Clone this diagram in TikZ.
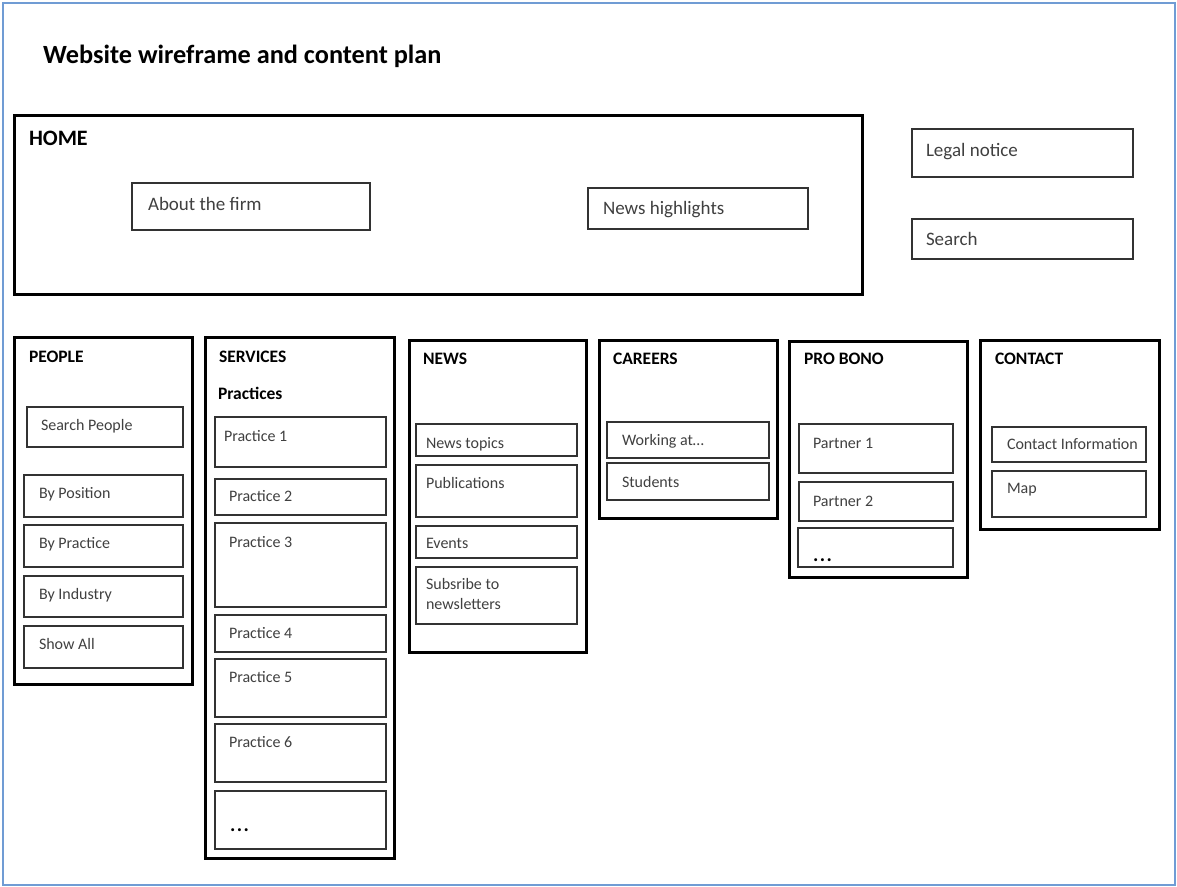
\documentclass[tikz,border=0pt]{standalone}
\usepackage{fontspec}
\setmainfont{Carlito}
\usetikzlibrary{fit}

\definecolor{framecol}{RGB}{112,156,212}
\definecolor{itemline}{RGB}{50,50,50}
\definecolor{itemtext}{RGB}{64,64,64}

\tikzset{
  page/.style={draw=framecol, line width=2pt},
  section/.style={draw=black, line width=3pt, inner sep=0pt, outer sep=0pt},
  item/.style={draw=itemline, line width=1.4pt, inner sep=0pt, outer sep=0pt},
  txt/.style={anchor=base west, inner sep=0pt, outer sep=0pt},
  title/.style={txt, font=\fontsize{26.3}{31}\selectfont\bfseries},
  bighead/.style={txt, font=\fontsize{22}{26}\selectfont\bfseries},
  head/.style={txt, font=\fontsize{17.5}{21}\selectfont\bfseries},
  toplabel/.style={txt, text=itemtext, font=\fontsize{19}{23}\selectfont},
  label/.style={txt, text=itemtext, font=\fontsize{16}{20}\selectfont},
  dots/.style={txt, font=\fontsize{20}{24}\selectfont\bfseries},
}
\newcommand\moredots{.\kern1.5pt.\kern1.5pt.}

\begin{document}
\begin{tikzpicture}[x=1pt, y=-1pt]
\useasboundingbox (0,0) rectangle (1177,886);
\fill[white] (0,0) rectangle (1177,886);

% page frame and heading
\draw[page] (2.5,2.5) rectangle (1175,885);
\node[title] (heading) at (43,63) {Website wireframe and content plan};

% home page block
\node[section, fit={(14,115)(862,294)}] (home) {};
\node[bighead] (homeT) at ([shift={(15,30)}]home.north west) {HOME};
\node[item, fit={(132,183)(370,230)}] (about) {};
\node[toplabel] (aboutT) at ([shift={(16,27)}]about.north west) {About the firm};
\node[item, fit={(588,188)(808,229)}] (highlights) {};
\node[toplabel] (highlightsT) at ([shift={(15,26)}]highlights.north west) {News highlights};

% utility pages
\node[item, fit={(912,129)(1133,177)}] (legal) {};
\node[toplabel] (legalT) at ([shift={(14,27)}]legal.north west) {Legal notice};
\node[item, fit={(912,219)(1133,259)}] (search) {};
\node[toplabel] (searchT) at ([shift={(14,26)}]search.north west) {Search};

% PEOPLE
\node[section, fit={(14,337)(192,684)}] (people) {};
\node[head] (peopleT) at ([shift={(15,25)}]people.north west) {PEOPLE};
\node[item, fit={(27,407)(183,447)}] (searchpeople) {};
\node[label] (searchpeopleT) at ([shift={(14,23)}]searchpeople.north west) {Search People};
\node[item, fit={(24,475)(183,517)}] (byposition) {};
\node[label] (bypositionT) at ([shift={(15,23)}]byposition.north west) {By Position};
\node[item, fit={(24,525)(183,567)}] (bypractice) {};
\node[label] (bypracticeT) at ([shift={(15,23)}]bypractice.north west) {By Practice};
\node[item, fit={(24,576)(183,617)}] (byindustry) {};
\node[label] (byindustryT) at ([shift={(15,23)}]byindustry.north west) {By Industry};
\node[item, fit={(24,626)(183,668)}] (showall) {};
\node[label] (showallT) at ([shift={(15,23)}]showall.north west) {Show All};

% SERVICES
\node[section, fit={(205,337)(394,858)}] (services) {};
\node[head] (servicesT) at ([shift={(14,25)}]services.north west) {SERVICES};
\node[head] (practicesT) at ([shift={(13,62)}]services.north west) {Practices};
\node[item, fit={(215,417)(386,467)}] (p1) {};
\node[label] (p1T) at ([shift={(9,24)}]p1.north west) {Practice 1};
\node[item, fit={(215,479)(386,515)}] (p2) {};
\node[label] (p2T) at ([shift={(14,22)}]p2.north west) {Practice 2};
\node[item, fit={(215,523)(386,607)}] (p3) {};
\node[label] (p3T) at ([shift={(14,24)}]p3.north west) {Practice 3};
\node[item, fit={(215,615)(386,652)}] (p4) {};
\node[label] (p4T) at ([shift={(14,23)}]p4.north west) {Practice 4};
\node[item, fit={(215,659)(386,717)}] (p5) {};
\node[label] (p5T) at ([shift={(14,23)}]p5.north west) {Practice 5};
\node[item, fit={(215,724)(386,782)}] (p6) {};
\node[label] (p6T) at ([shift={(14,23)}]p6.north west) {Practice 6};
\node[item, fit={(215,791)(386,849)}] (pmore) {};
\node[dots] (pmoreT) at ([shift={(15,40)}]pmore.north west) {\moredots};

% NEWS
\node[section, fit={(409,340)(586,652)}] (news) {};
\node[head] (newsT) at ([shift={(14,24)}]news.north west) {NEWS};
\node[item, fit={(416,424)(577,456)}] (topics) {};
\node[label] (topicsT) at ([shift={(10,24)}]topics.north west) {News topics};
\node[item, fit={(416,465)(577,517)}] (publications) {};
\node[label] (publicationsT) at ([shift={(10,23)}]publications.north west) {Publications};
\node[item, fit={(416,526)(577,558)}] (events) {};
\node[label] (eventsT) at ([shift={(10,22)}]events.north west) {Events};
\node[item, fit={(416,567)(577,624)}] (subscribe) {};
\node[label] (subscribeT) at ([shift={(10,22)}]subscribe.north west) {Subsribe to};
\node[label] (subscribeT2) at ([shift={(10,42)}]subscribe.north west) {newsletters};

% CAREERS
\node[section, fit={(599,340)(777,518)}] (careers) {};
\node[head] (careersT) at ([shift={(14,24)}]careers.north west) {CAREERS};
\node[item, fit={(607,422)(769,458)}] (working) {};
\node[label] (workingT) at ([shift={(15,23)}]working.north west) {Working at…};
\node[item, fit={(607,463)(769,500)}] (students) {};
\node[label] (studentsT) at ([shift={(15,24)}]students.north west) {Students};

% PRO BONO
\node[section, fit={(789,341)(967,577)}] (probono) {};
\node[head] (probonoT) at ([shift={(15,23)}]probono.north west) {PRO BONO};
\node[item, fit={(799,424)(953,473)}] (partner1) {};
\node[label] (partner1T) at ([shift={(14,24)}]partner1.north west) {Partner 1};
\node[item, fit={(799,482)(953,521)}] (partner2) {};
\node[label] (partner2T) at ([shift={(14,24)}]partner2.north west) {Partner 2};
\node[item, fit={(798,528)(953,567)}] (partnermore) {};
\node[dots] (partnermoreT) at ([shift={(15,33)}]partnermore.north west) {\moredots};

% CONTACT
\node[section, fit={(980,340)(1159,529)}] (contact) {};
\node[head] (contactT) at ([shift={(15,24)}]contact.north west) {CONTACT};
\node[item, fit={(992,427)(1146,462)}] (contactinfo) {};
\node[label] (contactinfoT) at ([shift={(15,22)}]contactinfo.north west) {Contact Information};
\node[item, fit={(992,471)(1146,517)}] (map) {};
\node[label] (mapT) at ([shift={(15,22)}]map.north west) {Map};
\end{tikzpicture}
\end{document}
